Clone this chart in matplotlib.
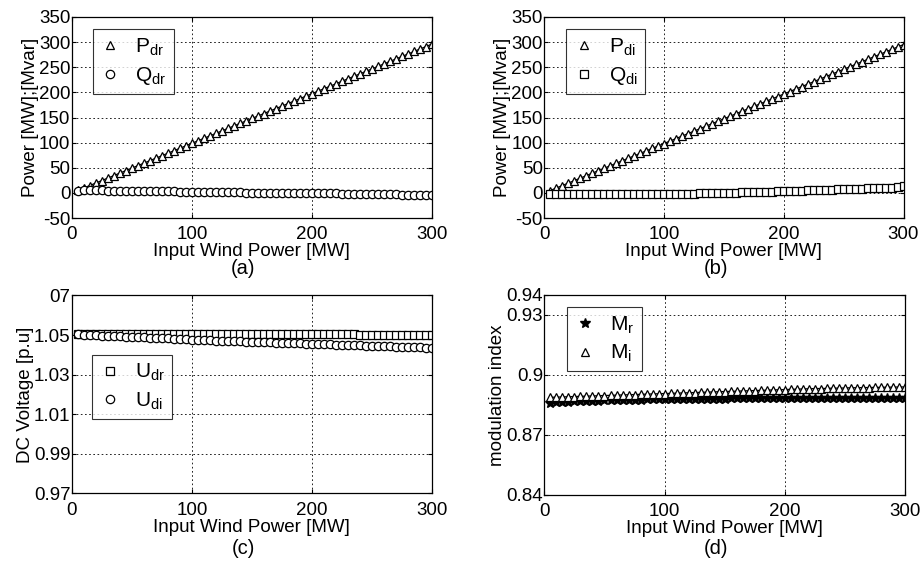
import matplotlib
matplotlib.use("Agg")
import matplotlib.pyplot as plt

plt.rcParams['font.family'] = ['Liberation Sans', 'DejaVu Sans']
plt.rcParams['mathtext.fontset'] = 'custom'
plt.rcParams['mathtext.rm'] = 'Liberation Sans'
plt.rcParams['mathtext.it'] = 'Liberation Sans'
plt.rcParams['axes.unicode_minus'] = False

# input wind power [MW]
wind = [5, 10, 15, 20, 25, 30, 35, 40, 45, 50, 55, 60, 65, 70, 75, 80, 85, 90, 95, 100,
        105, 110, 115, 120, 125, 130, 135, 140, 145, 150, 155, 160, 165, 170, 175, 180, 185, 190, 195, 200,
        205, 210, 215, 220, 225, 230, 235, 240, 245, 250, 255, 260, 265, 270, 275, 280, 285, 290, 295, 300]

# (a) rectifier side
P_dr = [4.9, 9.9, 14.8, 19.7, 24.7, 29.6, 34.5, 39.5, 44.4, 49.4, 54.3, 59.2, 64.2, 69.1, 74.0, 79.0, 83.9, 88.8, 93.8, 98.7,
        103.6, 108.6, 113.5, 118.4, 123.4, 128.3, 133.2, 138.2, 143.1, 148.1, 153.0, 157.9, 162.9, 167.8, 172.7, 177.7, 182.6, 187.5, 192.5, 197.4,
        202.3, 207.3, 212.2, 217.1, 222.1, 227.0, 231.9, 236.9, 241.8, 246.7, 251.7, 256.6, 261.5, 266.5, 271.4, 276.3, 281.3, 286.2, 291.1, 296.1]
Q_dr = [4.5, 5, 5, 5, 5, 4.5, 4.5, 4.5, 4, 4, 4, 3.5, 3.5, 3.5, 3, 3, 3, 2.5, 2.5, 2,
        2, 2, 1.5, 1.5, 1.5, 1, 1, 1, 0.5, 0.5, 0.5, 0.5, 0, 0, 0, 0, 0, 0, -0.5, -0.5,
        -0.5, -1, -1, -1, -1.5, -1.5, -2, -2, -2, -2.5, -2.5, -3, -3, -3, -3.5, -3.5, -4, -4, -4.5, -5]

# (b) inverter side
P_di = [4.8, 9.8, 14.7, 19.6, 24.5, 29.4, 34.4, 39.3, 44.2, 49.1, 54.0, 59.0, 63.9, 68.8, 73.7, 78.6, 83.6, 88.5, 93.4, 98.3,
        103.2, 108.2, 113.1, 118.0, 122.9, 127.8, 132.8, 137.7, 142.6, 147.5, 152.4, 157.4, 162.3, 167.2, 172.1, 177.0, 182.0, 186.9, 191.8, 196.7,
        201.6, 206.6, 211.5, 216.4, 221.3, 226.2, 231.2, 236.1, 241.0, 245.9, 250.8, 255.8, 260.7, 265.6, 270.5, 275.4, 280.4, 285.3, 290.2, 295.1]
Q_di = [-3, -3, -3, -3, -3, -3, -3, -3, -3, -3, -3, -3, -3, -3, -3, -3, -1.5, -1.5, -1.5, -1.5,
        -1.5, -1.5, -1.5, -1.5, -1.5, 0, 0, 0, 0, 0, 0, 0, 1.5, 1.5, 1.5, 1.5, 1.5, 1.5, 3.5, 3.5,
        3.5, 3.5, 3.5, 5, 5, 5, 5, 5, 7, 7, 7, 7, 7, 9, 9, 9, 9, 9, 11, 13]

# (c) dc voltage [p.u]
U_dr = [1.0505, 1.0505, 1.0505, 1.0505, 1.0505, 1.0505, 1.0505, 1.0505, 1.0505, 1.0505, 1.0505, 1.0505, 1.0505, 1.0505, 1.0505, 1.0505, 1.0505, 1.0505, 1.0505, 1.0505,
        1.0505, 1.0505, 1.0505, 1.0505, 1.0505, 1.0505, 1.0505, 1.0505, 1.0505, 1.0505, 1.0505, 1.0505, 1.0505, 1.0505, 1.0505, 1.0505, 1.0505, 1.0505, 1.0505, 1.0505,
        1.0505, 1.0505, 1.0505, 1.0505, 1.0505, 1.0505, 1.0505, 1.0498, 1.0498, 1.0498, 1.0498, 1.0498, 1.0498, 1.0498, 1.0498, 1.0498, 1.0498, 1.0498, 1.0498, 1.0498]
U_di = [1.0503, 1.0502, 1.0500, 1.0499, 1.0497, 1.0496, 1.0495, 1.0493, 1.0492, 1.0491, 1.0489, 1.0488, 1.0487, 1.0485, 1.0484, 1.0483, 1.0481, 1.0480, 1.0478, 1.0476,
        1.0475, 1.0474, 1.0473, 1.0472, 1.0471, 1.0470, 1.0469, 1.0468, 1.0467, 1.0466, 1.0465, 1.0464, 1.0463, 1.0462, 1.0461, 1.0460, 1.0459, 1.0458, 1.0457, 1.0456,
        1.0455, 1.0454, 1.0453, 1.0452, 1.0451, 1.0450, 1.0449, 1.0448, 1.0447, 1.0446, 1.0445, 1.0444, 1.0443, 1.0442, 1.0441, 1.0440, 1.0439, 1.0438, 1.0437, 1.0436]

# (d) modulation index
M_r = [0.8862, 0.8864, 0.8866, 0.8867, 0.8868, 0.8869, 0.8870, 0.8871, 0.8872, 0.8873, 0.8874, 0.8875, 0.8876, 0.8876, 0.8877, 0.8877, 0.8878, 0.8878, 0.8879, 0.8879,
       0.8880, 0.8880, 0.8880, 0.8881, 0.8881, 0.8881, 0.8882, 0.8882, 0.8882, 0.8882, 0.8883, 0.8883, 0.8883, 0.8883, 0.8883, 0.8883, 0.8884, 0.8884, 0.8884, 0.8884,
       0.8884, 0.8884, 0.8884, 0.8884, 0.8884, 0.8884, 0.8884, 0.8884, 0.8884, 0.8884, 0.8884, 0.8884, 0.8884, 0.8883, 0.8883, 0.8883, 0.8883, 0.8883, 0.8883, 0.8883]
M_i = [0.8888, 0.8889, 0.8890, 0.8891, 0.8892, 0.8893, 0.8894, 0.8895, 0.8896, 0.8897, 0.8898, 0.8899, 0.8900, 0.8901, 0.8902, 0.8903, 0.8904, 0.8905, 0.8906, 0.8907,
       0.8908, 0.8909, 0.8910, 0.8911, 0.8912, 0.8913, 0.8914, 0.8915, 0.8916, 0.8917, 0.8918, 0.8919, 0.8920, 0.8921, 0.8922, 0.8923, 0.8924, 0.8925, 0.8926, 0.8927,
       0.8928, 0.8929, 0.8930, 0.8931, 0.8932, 0.8932, 0.8933, 0.8934, 0.8934, 0.8935, 0.8936, 0.8936, 0.8937, 0.8937, 0.8938, 0.8938, 0.8939, 0.8939, 0.8940, 0.8940]

fs = 13.5
mk = dict(color='k', lw=0.9, markerfacecolor='white', markeredgecolor='k', markeredgewidth=0.9, markersize=6)

fig = plt.figure(figsize=(9.21, 5.65), dpi=100)
ax_a = fig.add_axes([0.078, 0.614, 0.391, 0.356])
ax_b = fig.add_axes([0.591, 0.614, 0.390, 0.356])
ax_c = fig.add_axes([0.078, 0.127, 0.391, 0.350])
ax_d = fig.add_axes([0.591, 0.124, 0.392, 0.354])

ax_a.plot(wind, P_dr, marker='^', label=r'P$_{\mathregular{dr}}$', **mk)
ax_a.plot(wind, Q_dr, marker='o', label=r'Q$_{\mathregular{dr}}$', **mk)
ax_a.set_ylim(-50, 350)
ax_a.set_yticks([-50, 0, 50, 100, 150, 200, 250, 300, 350])
ax_a.set_ylabel('Power [MW];[Mvar]', fontsize=fs, labelpad=0)

ax_b.plot(wind, P_di, marker='^', label=r'P$_{\mathregular{di}}$', **mk)
ax_b.plot(wind, Q_di, marker='s', label=r'Q$_{\mathregular{di}}$', **mk)
ax_b.set_ylim(-50, 350)
ax_b.set_yticks([-50, 0, 50, 100, 150, 200, 250, 300, 350])
ax_b.set_ylabel('Power [MW];[Mvar]', fontsize=fs, labelpad=0)

ax_c.plot(wind, U_dr, marker='s', label=r'U$_{\mathregular{dr}}$', **mk)
ax_c.plot(wind, U_di, marker='o', label=r'U$_{\mathregular{di}}$', **mk)
ax_c.set_ylim(0.97, 1.07)
ax_c.set_yticks([0.97, 0.99, 1.01, 1.03, 1.05, 1.07])
ax_c.set_yticklabels(['0.97', '0.99', '1.01', '1.03', '1.05', '07'])
ax_c.set_ylabel('DC Voltage [p.u]', fontsize=fs, labelpad=0)

ax_d.plot(wind, M_r, marker='*', color='k', lw=0.9, markersize=7, label=r'M$_{\mathregular{r}}$')
ax_d.plot(wind, M_i, marker='^', label=r'M$_{\mathregular{i}}$', **mk)
ax_d.set_ylim(0.84, 0.94)
ax_d.set_yticks([0.84, 0.87, 0.9, 0.93, 0.94])
ax_d.set_yticklabels(['0.84', '0.87', '0.9', '0.93', '0.94'])
ax_d.set_ylabel('modulation index', fontsize=fs, labelpad=0)

legend_pos = {ax_a: (0.058, 0.94), ax_b: (0.061, 0.94), ax_c: (0.056, 0.70), ax_d: (0.064, 0.94)}
for ax in [ax_a, ax_b, ax_c, ax_d]:
    ax.set_xlim(0, 300)
    ax.set_xticks([0, 100, 200, 300])
    ax.set_xlabel('Input Wind Power [MW]', fontsize=fs, labelpad=0)
    ax.tick_params(labelsize=fs, direction='in', length=3, width=0.8, top=True, right=True, pad=1)
    ax.tick_params(axis='x', pad=6)
    ax.grid(True, color='k', linestyle=(0, (2, 3)), linewidth=0.6)
    for sp in ax.spines.values():
        sp.set_linewidth(0.9)
    leg = ax.legend(loc='upper left', bbox_to_anchor=legend_pos[ax], fontsize=15, frameon=True,
                    fancybox=False, edgecolor='k', handlelength=1.0, handletextpad=0.7,
                    borderpad=0.35, labelspacing=0.35, borderaxespad=0, numpoints=1)
    leg.get_frame().set_linewidth(0.8)
    for ln in leg.get_lines():
        ln.set_linestyle('none')

for x, y, t in [(0.264, 0.525, '(a)'), (0.777, 0.525, '(b)'), (0.264, 0.030, '(c)'), (0.777, 0.030, '(d)')]:
    fig.text(x, y, t, fontsize=fs + 1, ha='center', va='center')

fig.savefig('out.png', dpi=100)
